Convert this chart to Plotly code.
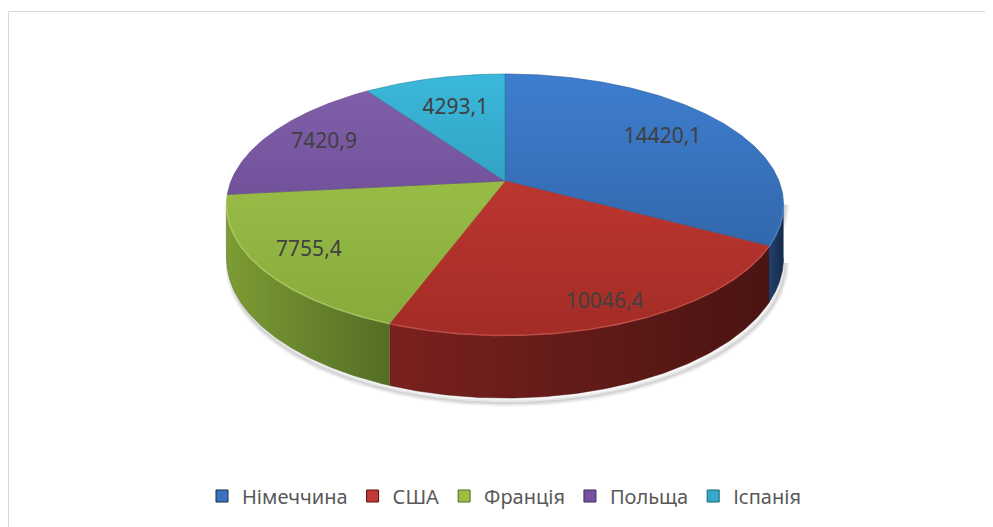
import numpy as np
import plotly.graph_objects as go

# ---- data ----
countries = ["Німеччина", "США", "Франція", "Польща", "Іспанія"]
values = [14420.1, 10046.4, 7755.4, 7420.9, 4293.1]

# ---- styling ----
top_colors = [("#3E7ECF", "#2C5C9A"), ("#CC3E36", "#A32C26"), ("#A4CA4F", "#86A93A"),
              ("#8260AC", "#5F4486"), ("#3AB8DC", "#2786A0")]
side_colors = [("#22426F", "#16294A"), ("#7A211E", "#4A1412"), ("#7C9C34", "#536D24"),
               ("#5A4280", "#3E2C5A"), ("#2A8AA4", "#1C6072")]
rim_colors = ["#5A93DA", "#DE5F57", "#BFDC77", "#9C80C0", "#63CCE8"]
legend_colors = ["#3A72BE", "#C23A33", "#9BBE47", "#7552A0", "#33AACB"]
label_r = [0.67, 1.03, 0.905, 0.725, 0.6]

W, H = 993, 527
OFF = 8                    # page body margin of the html page
CX, CY = 505.0, 181.0      # projected centre of the top face (screen px)
RX, RY = 274.0, 126.3      # radii of the disc
T = 0.18                   # perspective strength
DEPTH = 51.7               # thickness of the disc


def proj(theta, f=1.0):
    c, s = np.cos(theta), np.sin(theta)
    sc = 1.0 / (1.0 + T * f * c)
    return CX + RX * f * s * sc, CY - RY * f * c * sc, sc


total = sum(values)
cum = np.concatenate([[0], np.cumsum(values)]) / total * 2 * np.pi
th_r = np.arccos(-T)
th_l = 2 * np.pi - th_r

fig = go.Figure()

# shadow under the disc
tt = np.linspace(th_r, th_l, 200)
sx, sy, ssc = proj(tt)
shx = np.concatenate([sx + 2, (sx + 2)[::-1]])
shy = np.concatenate([sy, (sy + DEPTH * ssc + 5)[::-1]])
for w, a in [(8, 0.04), (5, 0.06), (2, 0.08)]:
    fig.add_trace(go.Scatter(x=shx, y=shy, mode="lines", fill="toself",
                             fillcolor="rgba(0,0,0,0.0)",
                             line=dict(color=f"rgba(0,0,0,{a})", width=w),
                             hoverinfo="skip", showlegend=False))

# side walls
for i in range(len(values)):
    a, b = cum[i], cum[i + 1]
    a2, b2 = max(a, th_r), min(b, th_l)
    if b2 <= a2:
        continue
    t = np.linspace(a2, b2, 120)
    x, y, sc = proj(t)
    px = np.concatenate([x, x[::-1]])
    py = np.concatenate([y, (y + DEPTH * sc)[::-1]])
    fig.add_trace(go.Scatter(
        x=px, y=py, mode="lines", fill="toself",
        line=dict(color=side_colors[i][1], width=0.5),
        fillgradient=dict(type="horizontal",
                          colorscale=[[0, side_colors[i][0]], [1, side_colors[i][1]]]),
        hoverinfo="skip", showlegend=False))

# top faces
for i in range(len(values)):
    a, b = cum[i], cum[i + 1]
    t = np.linspace(a, b, 150)
    x, y, _ = proj(t)
    px = np.concatenate([[CX], x, [CX]])
    py = np.concatenate([[CY], y, [CY]])
    fig.add_trace(go.Scatter(
        x=px, y=py, mode="lines", fill="toself",
        line=dict(color=top_colors[i][1], width=0.6),
        fillgradient=dict(type="vertical", start=74, stop=335,
                          colorscale=[[0, top_colors[i][0]], [1, top_colors[i][1]]]),
        hoverinfo="skip", showlegend=False))

# rim highlights on the front edge
for i in range(len(values)):
    a, b = cum[i], cum[i + 1]
    a2, b2 = max(a, th_r), min(b, th_l)
    if b2 <= a2:
        continue
    t = np.linspace(a2, b2, 120)
    x, y, _ = proj(t)
    fig.add_trace(go.Scatter(x=x, y=y + 0.5, mode="lines",
                             line=dict(color=rim_colors[i], width=1.4),
                             opacity=0.7, hoverinfo="skip", showlegend=False))

# data labels
mids = (cum[:-1] + cum[1:]) / 2
lx = CX + RX * np.array(label_r) * np.sin(mids)
ly = CY - RY * np.array(label_r) * np.cos(mids)
fig.add_trace(go.Scatter(
    x=lx, y=ly, mode="text",
    text=[f"{v:.1f}".replace(".", ",") for v in values],
    textfont=dict(family="Noto Sans", size=21, color="#404040"),
    hoverinfo="skip", showlegend=False))

# legend entries
for i, name in enumerate(countries):
    fig.add_trace(go.Scatter(
        x=[None], y=[None], mode="markers", name=name,
        marker=dict(symbol="square", size=12, color=legend_colors[i],
                    line=dict(color=side_colors[i][1], width=1))))

# chart border
fig.add_shape(type="rect", x0=8.5, y0=11.5, x1=W + 40, y1=H + 40,
              line=dict(color="#D9D9D9", width=1), fillcolor="rgba(0,0,0,0)", layer="below")

fig.update_layout(
    width=W, height=H, autosize=False,
    margin=dict(l=0, r=0, t=0, b=0),
    paper_bgcolor="white", plot_bgcolor="white",
    xaxis=dict(range=[OFF, W + OFF], visible=False, fixedrange=True),
    yaxis=dict(range=[H + OFF, OFF], visible=False, fixedrange=True),
    legend=dict(orientation="h", x=(504 - OFF) / W, xanchor="center",
                y=1 - (496 - OFF) / H, yanchor="middle",
                font=dict(family="Noto Sans", size=20, color="#595959"),
                itemwidth=30, tracegroupgap=0, bgcolor="rgba(0,0,0,0)"),
)

fig.write_html("out.html")
